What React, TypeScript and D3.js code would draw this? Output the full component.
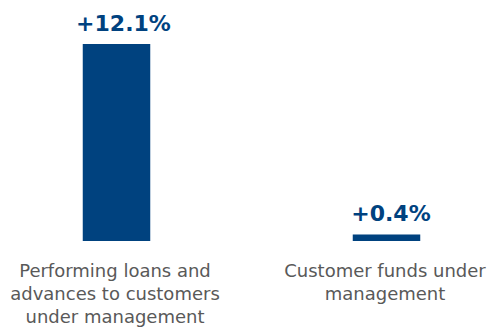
import React from "react";
import * as d3 from "d3";

const categories: string[][] = [
  ["Performing loans and", "advances to customers", "under management"],
  ["Customer funds under", "management"],
];
const values: number[] = [12.1, 0.4];
const valueLabels: string[] = ["+12.1%", "+0.4%"];

const W = 489;
const H = 327;
const BLUE = "#00427f";
const GRAY = "#595959";
const LABEL_DX = [7, 4.5];

export default function App() {
  const x = d3
    .scaleBand<number>()
    .domain(values.map((_, i) => i))
    .range([-18.5, 521.5])
    .paddingInner(0.75)
    .paddingOuter(0.375);
  const y = d3.scaleLinear().domain([0, 12.1]).range([241, 44]);

  return (
    <div style={{ position: "absolute", left: 0, top: 0 }}>
      <svg width={W} height={H} style={{ display: "block", fontFamily: "DejaVu Sans" }}>
        {values.map((v, i) => {
          const bx = x(i)!;
          const cx = bx + x.bandwidth() / 2;
          return (
            <g key={i}>
              <rect x={bx} y={y(v)} width={x.bandwidth()} height={y(0) - y(v)} fill={BLUE} />
              <text
                x={cx + LABEL_DX[i]}
                y={y(v) - 13}
                textAnchor="middle"
                fontWeight="bold"
                fontSize={22}
                fill={BLUE}
              >
                {valueLabels[i]}
              </text>
              {categories[i].map((line, j) => (
                <text
                  key={j}
                  x={cx - 1.5}
                  y={277 + j * 23}
                  textAnchor="middle"
                  fontSize={18}
                  fill={GRAY}
                >
                  {line}
                </text>
              ))}
            </g>
          );
        })}
      </svg>
    </div>
  );
}
